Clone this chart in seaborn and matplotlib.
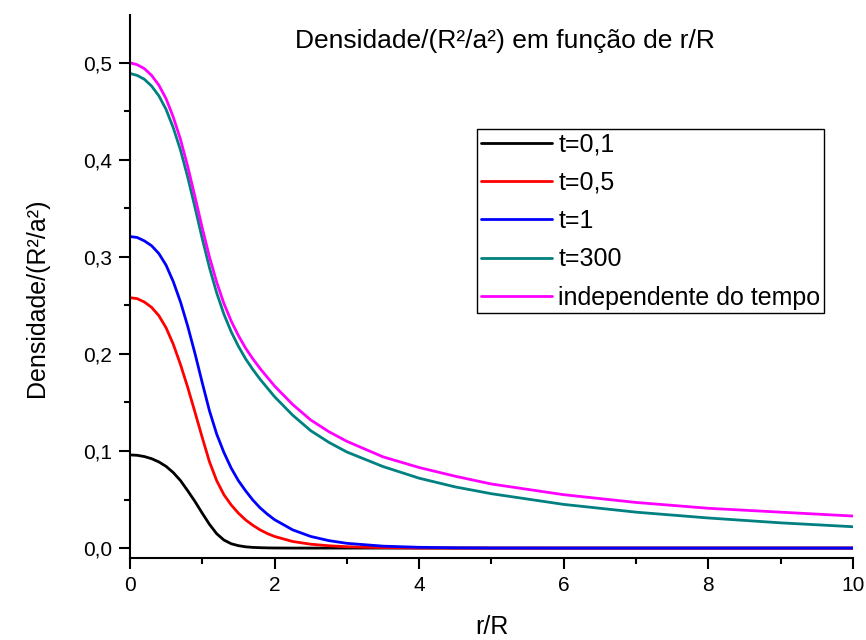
import numpy as np
import pandas as pd
import matplotlib
matplotlib.use('Agg')
import matplotlib.pyplot as plt
from matplotlib.ticker import MultipleLocator, FuncFormatter
import seaborn as sns

# values
r_over_R = [0.0, 0.1, 0.2, 0.3, 0.4, 0.5, 0.6, 0.7, 0.8, 0.9, 1.0,
            1.1, 1.2, 1.3, 1.4, 1.5, 1.6, 1.7, 1.8, 1.9, 2.0,
            2.25, 2.5, 2.75, 3.0, 3.5, 4.0, 4.5, 5.0, 6.0, 7.0, 8.0, 9.0, 10.0]

dens_t01 = [0.0960, 0.0956, 0.0943, 0.0921, 0.0888, 0.0842, 0.0778, 0.0695, 0.0590, 0.0480, 0.0360,
            0.0245, 0.0148, 0.0083, 0.0045, 0.0025, 0.0013, 0.0007, 0.0004, 0.0002, 0.0001,
            0.0, 0.0, 0.0, 0.0, 0.0, 0.0, 0.0, 0.0, 0.0, 0.0, 0.0, 0.0, 0.0]
dens_t05 = [0.258, 0.257, 0.2535, 0.248, 0.2395, 0.227, 0.210, 0.189, 0.1655, 0.140, 0.114,
            0.089, 0.0695, 0.055, 0.0445, 0.036, 0.029, 0.0235, 0.0188, 0.015, 0.012,
            0.0068, 0.0040, 0.0024, 0.0014, 0.0005, 0.0001, 0.0, 0.0, 0.0, 0.0, 0.0, 0.0, 0.0]
dens_t1 = [0.321, 0.320, 0.3165, 0.3115, 0.3035, 0.2915, 0.2745, 0.2535, 0.2285, 0.2005, 0.1705,
           0.1415, 0.1175, 0.0985, 0.0825, 0.0695, 0.059, 0.0495, 0.0415, 0.035, 0.0293,
           0.0188, 0.0120, 0.0077, 0.0049, 0.0020, 0.0008, 0.0003, 0.0001, 0.0, 0.0, 0.0, 0.0, 0.0]
dens_t300 = [0.489, 0.487, 0.483, 0.476, 0.466, 0.452, 0.433, 0.410, 0.382, 0.351, 0.319,
             0.289, 0.263, 0.241, 0.223, 0.208, 0.195, 0.184, 0.174, 0.165, 0.156,
             0.137, 0.121, 0.109, 0.099, 0.084, 0.072, 0.063, 0.056, 0.045, 0.037, 0.031, 0.026, 0.022]
dens_indep = [0.500, 0.498, 0.494, 0.487, 0.477, 0.463, 0.444, 0.421, 0.393, 0.362, 0.330,
              0.300, 0.274, 0.252, 0.234, 0.219, 0.206, 0.195, 0.185, 0.176, 0.167,
              0.148, 0.132, 0.120, 0.110, 0.094, 0.083, 0.074, 0.066, 0.055, 0.047, 0.041, 0.037, 0.033]

labels = ['t=0,1', 't=0,5', 't=1', 't=300', 'independente do tempo']
colors = ['#000000', '#ff0000', '#0000ff', '#008080', '#ff00ff']

series = [dens_t01, dens_t05, dens_t1, dens_t300, dens_indep]
df = pd.concat([pd.DataFrame({'r': r_over_R, 'dens': s, 'curva': lab})
                for s, lab in zip(series, labels)], ignore_index=True)

sns.set_style("ticks")
plt.rcParams['font.family'] = ['Liberation Sans', 'DejaVu Sans']
plt.rcParams['text.color'] = 'black'
plt.rcParams['axes.labelcolor'] = 'black'
plt.rcParams['xtick.color'] = 'black'
plt.rcParams['ytick.color'] = 'black'

fig = plt.figure(figsize=(8.66, 6.4), dpi=100)
ax = fig.add_axes([0.150, 0.128, 0.835, 0.849])

sns.lineplot(data=df, x='r', y='dens', hue='curva', hue_order=labels,
             palette=dict(zip(labels, colors)), linewidth=2.0, ax=ax, sort=False)

ax.set_xlim(0, 10)
ax.set_ylim(-0.0103, 0.5495)
ax.xaxis.set_major_locator(MultipleLocator(2))
ax.xaxis.set_minor_locator(MultipleLocator(1))
ax.yaxis.set_major_locator(MultipleLocator(0.1))
ax.yaxis.set_minor_locator(MultipleLocator(0.05))
ax.yaxis.set_major_formatter(FuncFormatter(lambda v, p: f"{v:.1f}".replace('.', ',')))
ax.xaxis.set_major_formatter(FuncFormatter(lambda v, p: f"{v:.0f}"))

for side in ['top', 'right']:
    ax.spines[side].set_visible(False)
for side in ['left', 'bottom']:
    ax.spines[side].set_linewidth(1.5)
    ax.spines[side].set_color('black')

ax.tick_params(which='major', direction='out', length=8, width=1.5, labelsize=15,
               colors='black', pad=5)
ax.tick_params(which='minor', direction='out', length=4.5, width=1.5, colors='black')

ax.set_xlabel('r/R', fontsize=18, labelpad=14)
ax.set_ylabel('Densidade/(R²/a²)', fontsize=18)
ax.yaxis.set_label_coords(-0.112, 0.48)

ax.text(0.519, 0.952, 'Densidade/(R²/a²) em função de r/R', transform=ax.transAxes,
        ha='center', va='center', fontsize=19)

handles, _ = ax.get_legend_handles_labels()
leg = ax.legend(handles, labels, loc='upper left', bbox_to_anchor=(0.48, 0.79),
                borderaxespad=0, fontsize=18, frameon=True, fancybox=False,
                edgecolor='black', framealpha=1, borderpad=0.15, labelspacing=0.57,
                handlelength=2.85, handletextpad=0.25)
leg.get_frame().set_linewidth(1.0)

plt.savefig('out.png', dpi=100)
